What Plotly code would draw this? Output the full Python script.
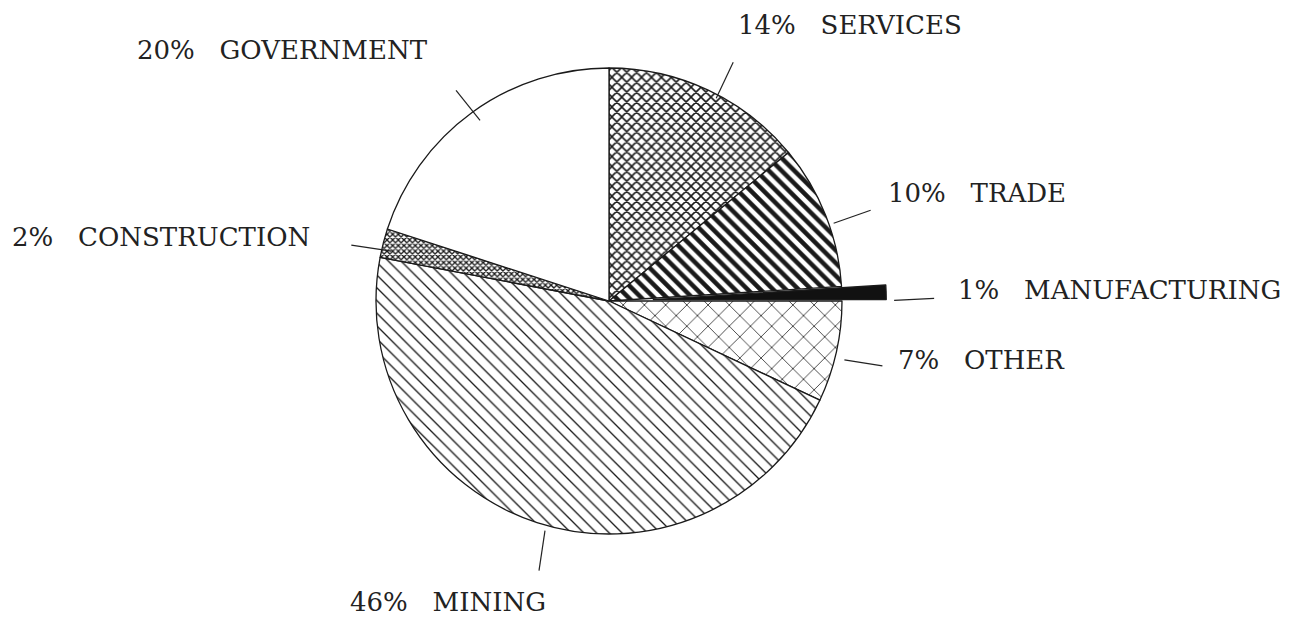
import math
import plotly.graph_objects as go

# ---- data ----
sectors = ["SERVICES", "TRADE", "MANUFACTURING", "OTHER", "MINING", "CONSTRUCTION", "GOVERNMENT"]
shares = [14, 10, 1, 7, 46, 2, 20]
pulls = [0, 0, 0.19, 0, 0, 0, 0]
shapes_pat = ["x", "\\", "", "x", "\\", "x", ""]
pat_size = [7, 9, 8, 15, 9, 4, 8]
pat_solid = [0.4, 0.5, 0.3, 0.1, 0.15, 0.55, 0.3]
fill_bg = ["white", "white", "#111111", "white", "white", "white", "white"]

W, H = 1314, 618
CX, CY = 609, 301          # pie centre (px)
R = 233                    # unpulled radius (px)
DOM = R * (1 + max(pulls)) # half-size of domain
SHIFT = 8                  # plotly renders the pie this many px right/down of domain centre

def px2paper(x, y):
    return x / W, 1 - y / H

x0, y1 = px2paper(CX - SHIFT - DOM, CY - SHIFT - DOM)
x1, y0 = px2paper(CX - SHIFT + DOM, CY - SHIFT + DOM)

fig = go.Figure(go.Pie(
    labels=sectors, values=shares, sort=False, direction="clockwise", rotation=0,
    pull=pulls, textinfo="none", hoverinfo="label+percent", showlegend=False,
    domain=dict(x=[x0, x1], y=[y0, y1]),
    marker=dict(
        colors=fill_bg,
        line=dict(color="#1a1a1a", width=1.3),
        pattern=dict(shape=shapes_pat, size=pat_size, solidity=pat_solid,
                     fgcolor="#1a1a1a", bgcolor=fill_bg, fgopacity=1,
                     fillmode="replace"),
    ),
))

# label layout: (leader end offset dx, dy from arc point, label left x, label centre y)
label_layout = {
    "SERVICES": (17, -36, 738, 25),
    "TRADE": (37, -13, 888, 193),
    "MANUFACTURING": (40, -2, 958, 290),
    "OTHER": (38, 6, 898, 360),
    "MINING": (-6, 40, 350, 602),
    "CONSTRUCTION": (-40, -6, 12, 237),
    "GOVERNMENT": (-24, -30, 137, 50),
}
TXT_DX, TXT_DY = -10, -8   # annotation box padding compensation

total = sum(shares)
cum = 0
line_shapes = []
annotations = []
for name, v, p in zip(sectors, shares, pulls):
    mid = (cum + v / 2) / total * 2 * math.pi
    cum += v
    r = R * (1 + p)
    ax_ = CX + r * math.sin(mid)
    ay_ = CY - r * math.cos(mid)
    dx, dy, lx, ly = label_layout[name]
    xa, ya = px2paper(ax_, ay_)
    xb, yb = px2paper(ax_ + dx, ay_ + dy)
    line_shapes.append(dict(type="line", xref="paper", yref="paper",
                            x0=xa, y0=ya, x1=xb, y1=yb,
                            line=dict(color="#222", width=1.2)))
    tx, ty = px2paper(lx + TXT_DX, ly + TXT_DY)
    annotations.append(dict(
        text=f"{v}%\u00a0\u00a0\u00a0{name}", x=tx, y=ty, xref="paper", yref="paper",
        xanchor="left", yanchor="middle", showarrow=False,
        font=dict(family="DejaVu Serif", size=26, color="#222")))

fig.update_layout(
    width=W, height=H, margin=dict(l=0, r=0, t=0, b=0),
    paper_bgcolor="white", plot_bgcolor="white",
    shapes=line_shapes, annotations=annotations,
)
fig.write_html("out.html")
